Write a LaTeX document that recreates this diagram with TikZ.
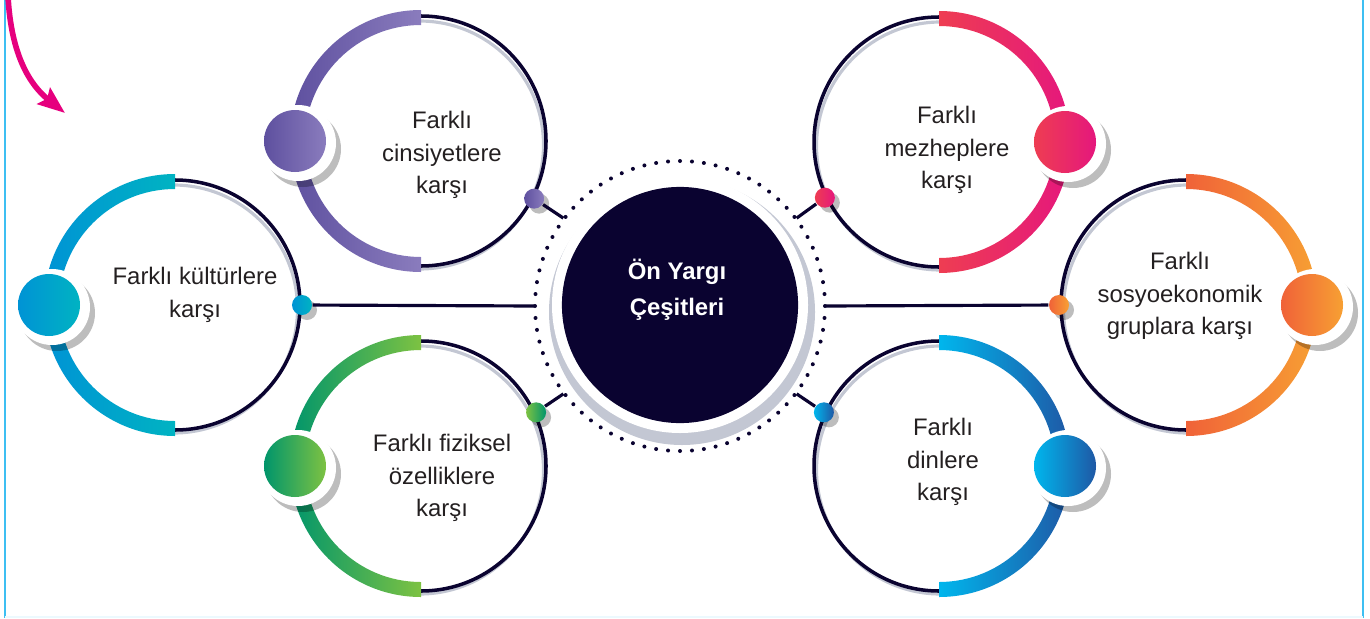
\documentclass[tikz,border=0pt]{standalone}
\usepackage{fontspec}
\setmainfont{Liberation Sans}
\usetikzlibrary{arrows.meta, calc}
\definecolor{navy}{RGB}{10,3,48}
\definecolor{lineshadow}{RGB}{195,199,211}
\definecolor{textgray}{RGB}{35,31,32}
\definecolor{framecyan}{RGB}{61,191,242}
\definecolor{arrowpink}{RGB}{230,0,126}
\definecolor{purpleA}{RGB}{94,80,159}
\definecolor{purpleB}{RGB}{138,124,189}
\definecolor{cyanA}{RGB}{0,147,213}
\definecolor{cyanB}{RGB}{0,179,194}
\definecolor{greenA}{RGB}{0,149,107}
\definecolor{greenB}{RGB}{125,194,66}
\definecolor{pinkA}{RGB}{238,61,82}
\definecolor{pinkB}{RGB}{229,23,125}
\definecolor{orangeA}{RGB}{240,98,56}
\definecolor{orangeB}{RGB}{247,160,51}
\definecolor{blueA}{RGB}{0,182,237}
\definecolor{blueB}{RGB}{31,88,165}

\begin{document}
\begin{tikzpicture}[x=0.01cm, y=0.01cm,
    topic/.style={align=center, text=textgray, font=\fontsize{6.8}{9.3}\selectfont},
    hubtext/.style={align=center, text=white, font=\bfseries\fontsize{6.8}{10.2}\selectfont},
    smalldot/.style={circle, inner sep=0pt, minimum size=0.2cm},
    link/.style={draw=navy, line width=0.9pt},
    darkline/.style={draw=navy, line width=1pt},
    shadowline/.style={draw=lineshadow, line width=0.9pt},
    dropshadow/.style={fill=black, opacity=0.26},
    pinkarrow/.style={draw=arrowpink, line width=1.6pt, -{Stealth[length=7.7pt, width=5.8pt, inset=1.2pt]}}]
    \useasboundingbox (0,0) rectangle (1370,-618);

    % Frame
    \draw[framecyan, line width=0.45pt] (5,0) -- (5,-618);
    \draw[framecyan, line width=0.6pt] (1363,0) -- (1363,-618);
    \draw[framecyan!10, line width=0.5pt] (5,-617) -- (1363,-617);

    % Pink arrow
    \coordinate (arrowstart) at (8,4);
    \coordinate (arrowtip) at (65,-113);
    \draw[pinkarrow] (arrowstart) .. controls (11,-55) and (30,-85) .. (arrowtip);

    % Hub
    \fill[lineshadow] (682,-312) circle [radius=133];
    \fill[white] (680,-305) circle [radius=128];
    \node[circle, fill=navy, minimum size=2.36cm] (hub) at (680,-305) {};
    \node[hubtext] (hubtext) at (677,-290) {Ön Yargı\\Çeşitleri};
    \foreach \a in {0,...,75}
        \fill[navy] (680,-306) ++(4.73684*\a:145) circle [radius=2];
    \foreach \a/\j in {143/1, 180/2, 217/3, 37/4, 0/5, -37/6}
        \coordinate (h\j) at ($(680,-306)+(\a:146)$);

    % Topic circles
    \foreach \cx/\cy/\d/\ca/\cb/\sa/\sb/\sang/\tx/\ty/\txt [count=\i] in {
        421/141/-1/purpleA/purpleB/purpleA/purpleB/-27/442/155/{Farklı\\cinsiyetlere\\karşı},
        175/305/-1/cyanA/cyanB/cyanA/cyanB/0/195/295/{Farklı kültürlere\\karşı},
        421/466/-1/greenA/greenB/greenB/greenA/25/442/478/{Farklı fiziksel\\özelliklere\\karşı},
        939/142/1/pinkA/pinkB/pinkA/pinkB/206/947/150/{Farklı\\mezheplere\\karşı},
        1186/305/1/orangeA/orangeB/orangeA/orangeB/180/1180/296/{Farklı\\sosyoekonomik\\gruplara karşı},
        939/466/1/blueA/blueB/blueA/blueB/155/943/462/{Farklı\\dinlere\\karşı}} {
        \coordinate (c\i) at (\cx,-\cy);
        % dark half with its shadow
        \draw[shadowline] ($(c\i)+(90:124)+(1.5*\d,-4)$) arc [start angle=90, end angle={90+180*\d}, radius=124];
        \draw[darkline] ($(c\i)+(90:125)$) arc [start angle=90, end angle={90+180*\d}, radius=125];
        % coloured half
        \shade[left color=\ca, right color=\cb] ($(c\i)+(90:131)$)
            arc [start angle=90, end angle={90-180*\d}, radius=131] -- ($(c\i)+(-90:116)$)
            arc [start angle={90-180*\d}, end angle=90, radius=116] -- cycle;
        % big dot
        \coordinate (b\i) at ($(c\i)+({90-90*\d}:126)$);
        \fill[dropshadow] ($(b\i)+(8,-8)$) circle [radius=38];
        \fill[white] ($(b\i)+(3,-2)$) circle [radius=38];
        \shade[left color=\ca, right color=\cb] (b\i) circle [radius=31];
        % small dot and link
        \fill[dropshadow] ($(c\i)+(\sang:127)+(5,-5)$) circle [radius=10];
        \node[smalldot, left color=\sa, right color=\sb] (s\i) at ($(c\i)+(\sang:127)$) {};
        \node[topic] (t\i) at (\tx,-\ty) {\txt};
        \draw[link] (s\i) -- (h\i);
    }
\end{tikzpicture}
\end{document}
